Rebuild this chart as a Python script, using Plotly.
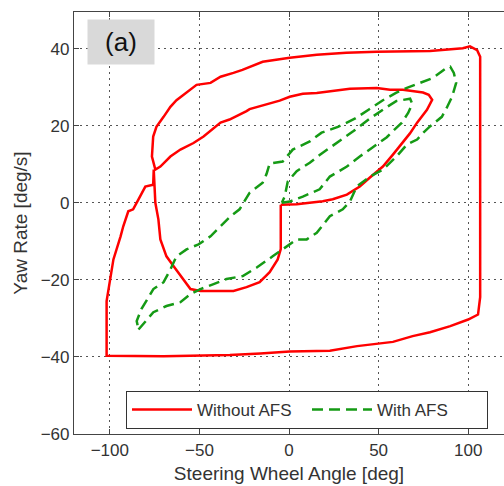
import plotly.graph_objects as go

# Red: without AFS (single continuous path)
red_x = [-4.6, 4.3, 18.8, 24.4, 32.3, 39.5, 45.0, 52.4, 58.0, 63.6, 67.5, 71.5, 77.0, 79.9, 78.0, 74.8,
         63.6, 56.4, 49.0, 34.0, 21.0, 15.5, 7.7, 0.4, -5.2, -14.7, -22.0, -23.7, -33.2, -38.2, -47.7,
         -53.3, -60.6, -66.2, -71.8, -74.6,
         -76.5, -75.8, -74.0, -70.0, -66.2, -62.8, -57.2, -51.6, -43.8, -38.2, -31.0, -26.0, -14.7, 0.4,
         15.5, 32.0, 49.0, 78.7, 97.0, 101.0, 105.0, 106.7,
         106.7, 105.5, 100.0, 90.0, 78.7, 69.0, 58.0, 38.0, 22.8, 0.4, -16.0, -33.0, -70.0, -101.8,
         -101.8, -100.0, -98.0, -94.0, -92.5, -89.7, -87.0, -84.0, -80.2, -75.8, -75.5,
         -74.6, -72.9, -71.8, -68.4, -64.5, -58.9, -55.0, -49.4, -31.0, -23.7, -16.4, -10.8, -6.3,
         -4.6, -4.6]
red_y = [-0.5, -0.4, 0.4, 0.9, 2.1, 4.2, 6.5, 9.4, 12.5, 15.6, 18.0, 20.8, 24.1, 26.7, 28.0, 28.6,
         29.3, 29.3, 29.8, 29.6, 28.8, 28.5, 28.3, 27.5, 26.5, 25.2, 24.3, 23.8, 21.6, 20.8, 17.2,
         15.5, 13.8, 12.0, 9.4, 8.6,
         12.0, 17.2, 19.7, 22.3, 24.9, 26.6, 28.7, 30.6, 31.1, 32.7, 33.7, 34.5, 36.6, 37.6,
         38.4, 38.9, 39.2, 39.4, 40.1, 40.6, 39.6, 37.9,
         -24.5, -29.0, -30.3, -32.0, -33.6, -34.6, -36.1, -37.2, -38.4, -38.6, -39.1, -39.5, -39.8, -39.7,
         -25.5, -19.8, -14.7, -8.7, -6.1, -2.2, -1.7, 0.9, 4.2, 4.7, 8.6,
         0.0, -4.3, -9.5, -13.9, -16.4, -19.8, -22.4, -22.9, -22.9, -21.9, -20.6, -18.0, -14.7,
         -12.0, -0.5]

# Green: with AFS (outer loop, gap, inner loop)
green_x = [-84.0, -75.7, -68.4, -60.6, -55.0, -49.4, -42.1, -34.9, -25.8, -18.0, -9.1, -1.3, 4.3, 9.9,
           15.5, 22.8, 30.0, 34.0, 37.8, 45.2, 52.4, 60.0, 65.8, 71.5, 75.0, 78.7, 81.5, 85.3, 88.0,
           91.0, 93.3, 92.0, 90.0, 88.0, 80.4, 73.0, 65.8, 59.7, 52.4, 44.6, 36.7, 27.3, 18.2, 11.6,
           2.1, -3.5, -10.8, -12.5, -14.7, -22.0, -27.6, -32.6, -38.2, -43.8, -50.5, -57.2, -62.8,
           -66.2, -70.0, -75.7, -82.4, -85.0, -84.0,
           None,
           -4.0, 0.4, 7.7, 17.1, 22.8, 32.3, 39.5, 47.0, 54.6, 58.0, 63.0, 66.5, 68.8, 67.6, 60.0,
           53.5, 45.0, 36.0, 26.7, 17.1, 11.6, 4.3, -0.7, -2.4, -4.0]
green_y = [-32.9, -28.4, -26.8, -25.8, -23.7, -22.4, -21.1, -19.8, -19.0, -16.8, -13.9, -11.3, -9.5, -9.5,
           -7.8, -3.5, -1.7, 0.3, 4.2, 6.8, 8.6, 12.0, 15.1, 16.4, 18.2, 19.8, 20.8, 22.3, 24.6,
           27.5, 31.1, 33.7, 35.3, 35.0, 32.4, 31.1, 29.8, 28.5, 26.6, 24.2, 21.8, 19.7, 18.2, 15.9,
           13.8, 10.7, 10.2, 7.5, 5.2, 2.6, -1.7, -3.5, -6.1, -8.7, -10.8, -12.1, -13.9,
           -17.3, -20.6, -22.4, -27.6, -30.7, -32.9,
           None,
           0.0, 0.3, 1.6, 3.5, 6.8, 9.4, 12.0, 14.6, 17.0, 18.6, 20.8, 23.3, 25.7, 27.0, 26.4,
           24.5, 21.8, 18.6, 15.6, 12.4, 10.4, 8.2, 5.5, 1.6, 0.0]

x_ticks = [-100, -50, 0, 50, 100]
y_ticks = [-60, -40, -20, 0, 20, 40]

FONT = "Liberation Sans, Arial, sans-serif"

fig = go.Figure()
fig.add_trace(go.Scatter(x=red_x, y=red_y, mode="lines", name="Without AFS",
                         line=dict(color="#ff0000", width=2.5)))
fig.add_trace(go.Scatter(x=green_x, y=green_y, mode="lines", name="With AFS", connectgaps=False,
                         line=dict(color="#159a15", width=2.5, dash="11px,6px")))

axis_common = dict(showline=True, linecolor="#444444", linewidth=1.2,
                   ticks="inside", ticklen=5, tickcolor="#444444",
                   showgrid=True, gridcolor="#555555", gridwidth=1, griddash="2px,4px",
                   zeroline=False, tickfont=dict(family=FONT, size=17, color="#333333"))

fig.update_xaxes(range=[-120, 120], tickvals=x_ticks, mirror="ticks",
                 title=dict(text="Steering Wheel Angle [deg]", font=dict(family=FONT, size=19, color="#333333"),
                            standoff=8),
                 **axis_common)
fig.update_yaxes(range=[-60, 49.5], tickvals=y_ticks, mirror=False,
                 title=dict(text="Yaw Rate [deg/s]", font=dict(family=FONT, size=19, color="#333333"),
                            standoff=8),
                 **axis_common)

fig.add_annotation(text="(a)", xref="paper", yref="paper", x=(87 - 74) / 430, y=(434 - 19) / 422,
                   xanchor="left", yanchor="top", showarrow=False, width=66, height=44,
                   bgcolor="#d9d9d9", borderpad=0,
                   font=dict(family=FONT, size=26, color="#111111"))

fig.update_layout(
    width=504, height=486,
    margin=dict(l=74, r=0, t=12, b=52),
    paper_bgcolor="white", plot_bgcolor="white",
    showlegend=True,
    legend=dict(orientation="h", x=(126 - 74) / 430, y=(434 - 391) / 422, xanchor="left", yanchor="top",
                bgcolor="white", bordercolor="#333333", borderwidth=1,
                font=dict(family=FONT, size=17, color="#333333"),
                entrywidth=105, entrywidthmode="pixels", itemwidth=60),
)

fig.write_html("out.html")
